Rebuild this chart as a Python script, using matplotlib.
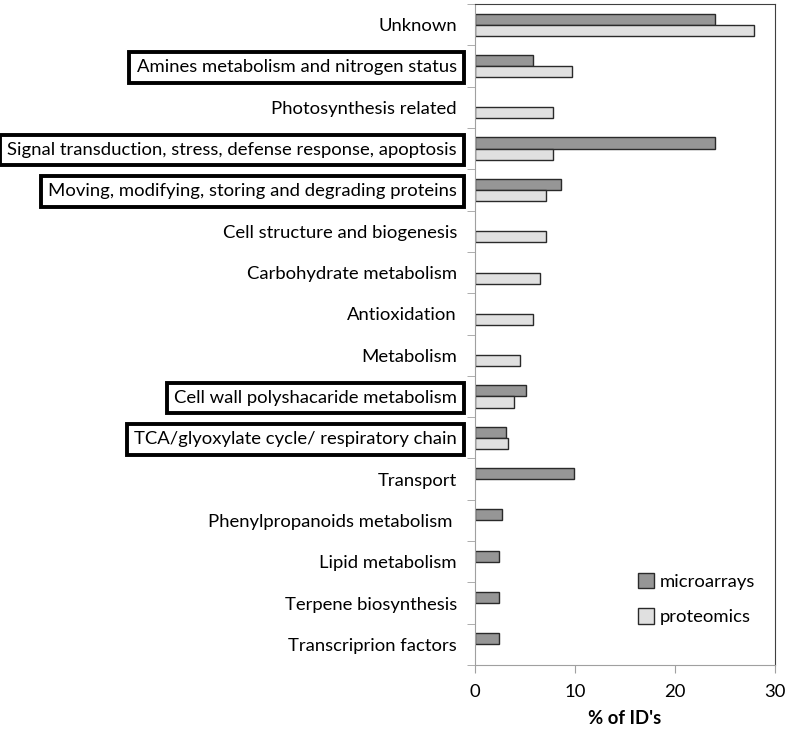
import matplotlib
matplotlib.use("Agg")
import matplotlib.pyplot as plt
import numpy as np

categories = ["Unknown", "Amines metabolism and nitrogen status", "Photosynthesis related",
              "Signal transduction, stress, defense response, apoptosis",
              "Moving, modifying, storing and degrading proteins",
              "Cell structure and biogenesis", "Carbohydrate metabolism", "Antioxidation",
              "Metabolism", "Cell wall polyshacaride metabolism",
              "TCA/glyoxylate cycle/ respiratory chain", "Transport",
              "Phenylpropanoids metabolism ", "Lipid metabolism", "Terpene biosynthesis",
              "Transcriprion factors"]
microarrays = [24.0, 5.8, 0, 24.0, 8.6, 0, 0, 0, 0, 5.1, 3.1, 9.9, 2.7, 2.4, 2.4, 2.4]
proteomics = [27.9, 9.7, 7.8, 7.8, 7.1, 7.1, 6.5, 5.8, 4.5, 3.9, 3.3, 0, 0, 0, 0, 0]
boxed = ["Amines metabolism and nitrogen status",
         "Signal transduction, stress, defense response, apoptosis",
         "Moving, modifying, storing and degrading proteins",
         "Cell wall polyshacaride metabolism",
         "TCA/glyoxylate cycle/ respiratory chain"]
xticks = [0, 10, 20, 30]

plt.rcParams['font.family'] = ['Lato', 'DejaVu Sans']
fig = plt.figure(figsize=(7.87, 7.30), dpi=100)
ax = fig.add_axes([475/787, 65/730, 300/787, 661/730])

n = len(categories)
y = np.arange(n)
h = 0.27
m_vals = np.array(microarrays)
p_vals = np.array(proteomics)
mi = m_vals > 0
pi = p_vals > 0
ax.barh(y[mi] - h/2, m_vals[mi], height=h, color="#969696", edgecolor="#2a2a2a", linewidth=1.0, label="microarrays")
ax.barh(y[pi] + h/2, p_vals[pi], height=h, color="#e0e0e0", edgecolor="#2a2a2a", linewidth=1.0, label="proteomics")

fs = 13.3
ax.set_ylim(n - 0.5, -0.5)
ax.set_xlim(0, 30)
ax.set_xticks(xticks)
ax.set_xticklabels([str(t) for t in xticks], fontsize=fs)
ax.set_yticks(y)
ax.set_yticklabels(categories, fontsize=fs)
ax.tick_params(axis='y', which='major', length=0, pad=13)
ax.set_yticks(np.arange(-0.5, n + 0.5, 1), minor=True)
ax.tick_params(axis='y', which='minor', length=6, color="#a0a0a0", direction='out')
ax.tick_params(axis='x', length=6, color="#a0a0a0", direction='out', pad=8)

for lab in ax.get_yticklabels():
    if lab.get_text() in boxed:
        lab.set_bbox(dict(boxstyle="square,pad=0.4", facecolor="none", edgecolor="black", linewidth=2.8))

ax.spines['left'].set_color("#a0a0a0")
ax.spines['bottom'].set_color("#a0a0a0")
ax.spines['top'].set_color("#404040")
ax.spines['right'].set_color("#404040")

ax.set_xlabel("% of ID's", fontsize=fs, fontweight='bold', labelpad=7)

leg = ax.legend(loc='lower right', bbox_to_anchor=(0.99, 0.035), frameon=False, fontsize=fs,
                handlelength=0.9, handleheight=0.9, handletextpad=0.3, labelspacing=1.0)

fig.savefig("out.png", dpi=100)
